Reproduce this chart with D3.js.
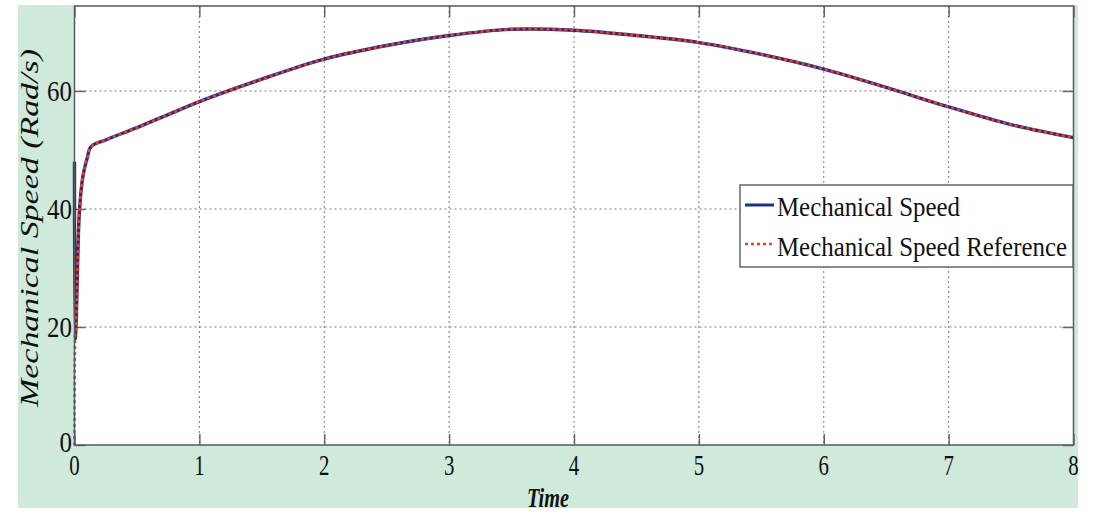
<!DOCTYPE html>
<html>
<head>
<meta charset="utf-8">
<script src="https://cdn.jsdelivr.net/npm/d3@7"></script>
<style>
  body { margin: 0; background: #fff; }
  svg text { font-family: "Liberation Serif", "DejaVu Serif", serif; fill: #111; }
</style>
</head>
<body>
<div id="chart"></div>
<script>
(function(window, document, undefined){

  // time samples (s) and the two speed traces (rad/s)
  var time_ref = [0, 0.005, 0.015, 0.027, 0.04, 0.067, 0.1, 0.134, 0.25, 0.5, 0.75, 1, 1.5, 2, 2.5, 3, 3.5, 4, 4.5, 5, 5.5, 6, 6.5, 7, 7.5, 8];
  var speed_ref = [0, 18, 22, 32.5, 39.8, 45.5, 48.5, 50.6, 51.7, 53.8, 56, 58.2, 62, 65.4, 67.7, 69.4, 70.45, 70.3, 69.4, 68.2, 66.2, 63.7, 60.6, 57.3, 54.3, 52.1];
  var time_meas = [0, 0.006, 0.015, 0.027, 0.04, 0.067, 0.1, 0.134, 0.25, 0.5, 0.75, 1, 1.5, 2, 2.5, 3, 3.5, 4, 4.5, 5, 5.5, 6, 6.5, 7, 7.5, 8];
  var speed_meas = [48, 18, 22, 32.5, 39.8, 45.5, 48.5, 50.6, 51.7, 53.8, 56, 58.2, 62, 65.4, 67.7, 69.4, 70.45, 70.3, 69.4, 68.2, 66.2, 63.7, 60.6, 57.3, 54.3, 52.1];

  var x_ticks = [0, 1, 2, 3, 4, 5, 6, 7, 8];
  var y_ticks = [0, 20, 40, 60];
  var series_names = ["Mechanical Speed", "Mechanical Speed Reference"];

  var W = 1099, H = 516;
  var left = 74.5, right = 1073.5, top = 6, bottom = 445;

  var svg = d3.select("#chart").append("svg")
      .attr("width", W).attr("height", H);

  // green figure background
  svg.append("rect")
      .attr("x", 18).attr("y", 5).attr("width", 1060).attr("height", 503)
      .attr("fill", "#cfeadb");

  var x = d3.scaleLinear().domain([0, 8]).range([left, right]);
  var y = d3.scaleLinear().domain([0, 74.4]).range([bottom, top]);

  svg.append("rect")
      .attr("x", left).attr("y", top)
      .attr("width", right - left).attr("height", bottom - top)
      .attr("fill", "#fff");

  // dotted grid
  var grid = svg.append("g").attr("stroke", "#7a7a7a").attr("stroke-width", 1)
      .attr("stroke-dasharray", "2,3");
  grid.selectAll(".gx").data(x_ticks.slice(1, -1)).enter().append("line")
      .attr("x1", function(d){ return x(d); }).attr("x2", function(d){ return x(d); })
      .attr("y1", top).attr("y2", bottom);
  grid.selectAll(".gy").data(y_ticks.slice(1)).enter().append("line")
      .attr("x1", left).attr("x2", right)
      .attr("y1", function(d){ return y(d); }).attr("y2", function(d){ return y(d); });

  // inward ticks (matlab style) via d3 axes
  var tk = 11;
  svg.append("g").attr("transform", "translate(0," + bottom + ")")
      .call(d3.axisTop(x).tickValues(x_ticks).tickSize(tk).tickFormat(""))
      .call(function(g){ g.select(".domain").remove(); });
  svg.append("g").attr("transform", "translate(0," + top + ")")
      .call(d3.axisBottom(x).tickValues(x_ticks).tickSize(tk).tickFormat(""))
      .call(function(g){ g.select(".domain").remove(); });
  svg.append("g").attr("transform", "translate(" + left + ",0)")
      .call(d3.axisRight(y).tickValues(y_ticks).tickSize(tk).tickFormat(""))
      .call(function(g){ g.select(".domain").remove(); });
  svg.append("g").attr("transform", "translate(" + right + ",0)")
      .call(d3.axisLeft(y).tickValues(y_ticks).tickSize(tk).tickFormat(""))
      .call(function(g){ g.select(".domain").remove(); });
  svg.selectAll(".tick line").attr("stroke", "#666").attr("stroke-width", 1.5);

  // tick labels (narrow, tall serif digits)
  svg.selectAll(".xl").data(x_ticks).enter().append("text")
      .attr("transform", function(d){ return "translate(" + x(d) + ",475) scale(0.72,1)"; })
      .attr("text-anchor", "middle")
      .style("font-size", "29px")
      .text(function(d){ return d; });
  svg.selectAll(".yl").data(y_ticks).enter().append("text")
      .attr("transform", function(d){ return "translate(72," + (y(d) + (d === 0 ? 7 : 10)) + ") scale(0.86,1)"; })
      .attr("text-anchor", "end")
      .style("font-size", "29px")
      .text(function(d){ return d; });

  // traces
  var line = d3.line().curve(d3.curveCatmullRom.alpha(0.5))
      .x(function(d){ return x(d[0]); })
      .y(function(d){ return y(d[1]); });
  var meas = d3.zip(time_meas, speed_meas);
  var ref = d3.zip(time_ref, speed_ref);

  svg.append("path").datum(meas).attr("d", line)
      .attr("fill", "none").attr("stroke", "#1f2f8c").attr("stroke-width", 3.4);
  svg.append("path").datum(ref).attr("d", line)
      .attr("fill", "none").attr("stroke", "#ff3a1c").attr("stroke-width", 2.6)
      .attr("stroke-dasharray", "3,3");

  // axes box
  svg.append("rect")
      .attr("x", left).attr("y", top)
      .attr("width", right - left).attr("height", bottom - top)
      .attr("fill", "none").attr("stroke", "#5a5a5a").attr("stroke-width", 1.5);

  // legend
  var lg = svg.append("g");
  lg.append("rect").attr("x", 740).attr("y", 185).attr("width", 333).attr("height", 82)
      .attr("fill", "#fff").attr("stroke", "#666").attr("stroke-width", 1.5);
  lg.append("line").attr("x1", 745).attr("x2", 774).attr("y1", 205).attr("y2", 205)
      .attr("stroke", "#1f2f8c").attr("stroke-width", 3);
  lg.append("line").attr("x1", 745).attr("x2", 774).attr("y1", 244).attr("y2", 244)
      .attr("stroke", "#ff3a1c").attr("stroke-width", 2.4).attr("stroke-dasharray", "3,3");
  lg.append("text").attr("x", 777).attr("y", 216)
      .attr("textLength", 183).attr("lengthAdjust", "spacingAndGlyphs")
      .style("font-size", "27px").text(series_names[0]);
  lg.append("text").attr("x", 777).attr("y", 256)
      .attr("textLength", 290).attr("lengthAdjust", "spacingAndGlyphs")
      .style("font-size", "27px").text(series_names[1]);

  // axis titles
  svg.append("text").attr("x", 548).attr("y", 507)
      .attr("text-anchor", "middle")
      .attr("textLength", 42).attr("lengthAdjust", "spacingAndGlyphs")
      .style("font-size", "27px").style("font-style", "italic").style("font-weight", "bold")
      .text("Time");
  svg.append("text")
      .attr("transform", "translate(38,228) rotate(-90)")
      .attr("text-anchor", "middle")
      .attr("textLength", 358).attr("lengthAdjust", "spacingAndGlyphs")
      .style("font-size", "26px").style("font-style", "italic")
      .text("Mechanical Speed (Rad/s)");

})(this, document);
</script>
</body>
</html>
